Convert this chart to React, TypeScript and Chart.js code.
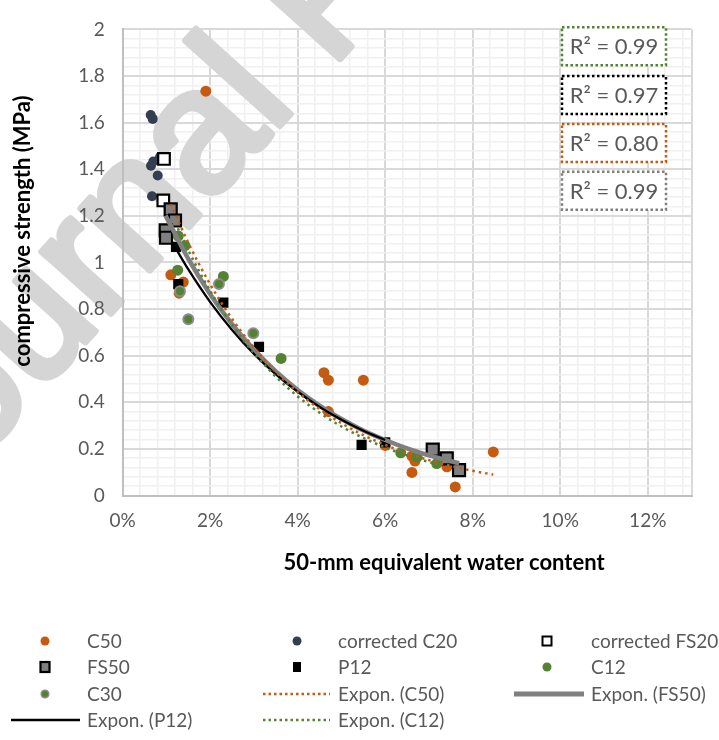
import React, { useEffect, useRef } from 'react';
import { Chart, registerables } from 'chart.js';

Chart.register(...registerables);

// ---- data (water content in %, strength in MPa) ----
const c50X = [1.90, 1.10, 1.385, 1.29, 4.60, 4.70, 5.50, 4.70, 6.00, 6.61, 6.68, 6.61, 7.41, 7.60, 8.47];
const c50Y = [1.735, 0.947, 0.916, 0.868, 0.527, 0.495, 0.495, 0.36, 0.215, 0.169, 0.148, 0.099, 0.123, 0.037, 0.187];

const c20X = [0.64, 0.686, 0.853, 0.70, 0.647, 0.80, 0.67];
const c20Y = [1.633, 1.616, 1.452, 1.433, 1.415, 1.373, 1.284];

const fs20X = [0.944, 0.928];
const fs20Y = [1.444, 1.266];

const fs50X = [1.097, 1.195, 0.983, 0.99, 7.086, 7.406, 7.687];
const fs50Y = [1.228, 1.18, 1.138, 1.106, 0.197, 0.159, 0.109];

const p12X = [1.218, 1.27, 2.30, 3.115, 5.46, 6.0];
const p12Y = [1.067, 0.907, 0.828, 0.638, 0.217, 0.228];

const c12X = [1.27, 1.424, 1.257, 2.30, 3.62, 6.354, 6.73, 7.177];
const c12Y = [1.113, 1.072, 0.967, 0.940, 0.588, 0.183, 0.165, 0.137];

const c30X = [1.31, 2.20, 1.50, 2.985];
const c30Y = [0.876, 0.907, 0.756, 0.696];

// trend lines
const trendC50X = [1.10, 1.5, 2, 2.5, 3, 3.5, 4, 4.5, 5, 5.5, 6, 6.5, 7, 7.5, 8, 8.47];
const trendC50Y = [1.250, 1.084, 0.906, 0.758, 0.634, 0.530, 0.443, 0.371, 0.310, 0.259, 0.217, 0.181, 0.152, 0.127, 0.106, 0.0896];

const trendFS50X = [0.98, 1.5, 2, 2.5, 3, 3.5, 4, 4.5, 5, 5.5, 6, 6.5, 7, 7.69];
const trendFS50Y = [1.201, 1.015, 0.864, 0.735, 0.626, 0.532, 0.453, 0.386, 0.328, 0.279, 0.238, 0.202, 0.172, 0.138];

const trendP12X = [1.22, 1.5, 2, 2.5, 3, 3.5, 4, 4.5, 5, 5.5, 6.0];
const trendP12Y = [1.058, 0.970, 0.830, 0.710, 0.607, 0.520, 0.445, 0.380, 0.325, 0.278, 0.238];

const trendC12X = [1.26, 1.5, 2, 2.5, 3, 3.5, 4, 4.5, 5, 5.5, 6, 6.5, 7.18];
const trendC12Y = [1.147, 1.052, 0.877, 0.732, 0.611, 0.510, 0.425, 0.355, 0.296, 0.247, 0.206, 0.172, 0.134];

const r2Labels = ['R² = 0.99', 'R² = 0.97', 'R² = 0.80', 'R² = 0.99'];
const r2Colors = ['#548235', '#000000', '#C55A11', '#7F7F7F'];

const xTitle = '50-mm equivalent water content';
const yTitle = 'compressive strength (MPa)';
const watermark = 'Journal Pre-proof';

// ---- styling ----
const FONT = 'Lato, "Open Sans", sans-serif';
const ORANGE = '#C55A11';
const NAVY = '#333F50';
const GREEN = '#548235';
const GRAY = '#808080';
const TXT = '#595959';

const xTicks: number[] = [];
for (let i = 0; i <= 32; i++) xTicks.push(Math.round(i * 4) / 1000);
xTicks.push(0.13);
const yTicks: number[] = [];
for (let i = 0; i <= 50; i++) yTicks.push(Math.round(i * 4) / 100);

const isMajorX = (v: number) => Math.abs(v * 50 - Math.round(v * 50)) < 1e-6 || Math.abs(v - 0.13) < 1e-9;
const isMajorY = (v: number) => Math.abs(v * 5 - Math.round(v * 5)) < 1e-6;

const pts = (xs: number[], ys: number[]) => xs.map((x, i) => ({ x: x / 100, y: ys[i] }));

function drawMarker(ctx: CanvasRenderingContext2D, kind: string, x: number, y: number) {
  ctx.save();
  if (kind === 'C50' || kind === 'C20' || kind === 'C12') {
    ctx.beginPath();
    ctx.arc(x, y, 4.5, 0, Math.PI * 2);
    ctx.fillStyle = kind === 'C50' ? ORANGE : kind === 'C20' ? NAVY : GREEN;
    ctx.fill();
  } else if (kind === 'C30') {
    ctx.beginPath();
    ctx.arc(x, y, 3.8, 0, Math.PI * 2);
    ctx.fillStyle = GREEN;
    ctx.fill();
    ctx.lineWidth = 1.5;
    ctx.strokeStyle = '#8C8C8C';
    ctx.stroke();
  } else if (kind === 'FS20') {
    ctx.fillStyle = '#fff';
    ctx.fillRect(x - 4.5, y - 4.5, 9, 9);
    ctx.lineWidth = 2;
    ctx.strokeStyle = '#000';
    ctx.strokeRect(x - 4.5, y - 4.5, 9, 9);
  } else if (kind === 'FS50') {
    ctx.fillStyle = GRAY;
    ctx.fillRect(x - 4.5, y - 5, 9, 10);
    ctx.lineWidth = 2.2;
    ctx.strokeStyle = '#000';
    ctx.strokeRect(x - 4.5, y - 5, 9, 10);
  } else if (kind === 'P12') {
    ctx.fillStyle = '#000';
    ctx.fillRect(x - 4, y - 5, 8, 10);
  }
  ctx.restore();
}

function drawLineSample(ctx: CanvasRenderingContext2D, kind: string, x1: number, x2: number, y: number) {
  ctx.save();
  ctx.beginPath();
  ctx.moveTo(x1, y);
  ctx.lineTo(x2, y);
  if (kind === 'C50' || kind === 'C12') {
    ctx.strokeStyle = kind === 'C50' ? ORANGE : GREEN;
    ctx.lineWidth = 2.5;
    ctx.setLineDash([2.5, 3]);
  } else if (kind === 'FS50') {
    ctx.strokeStyle = GRAY;
    ctx.lineWidth = 5;
  } else {
    ctx.strokeStyle = '#000';
    ctx.lineWidth = 2.5;
  }
  ctx.stroke();
  ctx.restore();
}

const decor = {
  id: 'decor',
  beforeDatasetsDraw(chart: any) {
    const ctx: CanvasRenderingContext2D = chart.ctx;
    ctx.save();
    ctx.translate(-86, 532);
    ctx.rotate(-48 * Math.PI / 180);
    ctx.font = '175px "Liberation Sans", Arial, sans-serif';
    ctx.fillStyle = '#D5D5D5';
    ctx.strokeStyle = '#D5D5D5';
    ctx.lineWidth = 7;
    ctx.lineJoin = 'round';
    ctx.textBaseline = 'alphabetic';
    ctx.strokeText(watermark, 0, 0);
    ctx.fillText(watermark, 0, 0);
    ctx.restore();
  },
  afterDraw(chart: any) {
    const ctx: CanvasRenderingContext2D = chart.ctx;
    ctx.save();
    // axis titles
    ctx.fillStyle = '#000';
    ctx.font = `bold 22px ${FONT}`;
    ctx.textAlign = 'center';
    ctx.textBaseline = 'middle';
    ctx.fillText(xTitle, 444, 563);
    ctx.save();
    ctx.translate(23, 231);
    ctx.rotate(-Math.PI / 2);
    ctx.fillText(yTitle, 0, 0);
    ctx.restore();

    // R² boxes
    const boxTops = [27.3, 76, 124, 171.7];
    for (let i = 0; i < 4; i++) {
      const bx = 562, by = boxTops[i], bw = 104, bh = 38;
      ctx.fillStyle = '#fff';
      ctx.fillRect(bx, by, bw, bh);
      ctx.save();
      ctx.strokeStyle = r2Colors[i];
      ctx.lineWidth = 2.5;
      ctx.setLineDash([2.5, 2.5]);
      ctx.strokeRect(bx, by, bw, bh);
      ctx.restore();
      ctx.fillStyle = TXT;
      ctx.font = `22px ${FONT}`;
      ctx.textAlign = 'center';
      ctx.textBaseline = 'middle';
      ctx.fillText(r2Labels[i], bx + bw / 2, by + bh / 2 + 1);
    }

    // legend
    const rows = [641, 667, 694, 720];
    const markX = [45, 297, 547];
    const textX = [87, 338, 591];
    const lineX = [[11, 80], [263, 330], [514, 584]];
    const items = [
      { label: 'C50', kind: 'C50', line: false },
      { label: 'corrected C20', kind: 'C20', line: false },
      { label: 'corrected FS20', kind: 'FS20', line: false },
      { label: 'FS50', kind: 'FS50', line: false },
      { label: 'P12', kind: 'P12', line: false },
      { label: 'C12', kind: 'C12', line: false },
      { label: 'C30', kind: 'C30', line: false },
      { label: 'Expon. (C50)', kind: 'C50', line: true },
      { label: 'Expon. (FS50)', kind: 'FS50', line: true },
      { label: 'Expon. (P12)', kind: 'P12', line: true },
      { label: 'Expon. (C12)', kind: 'C12', line: true },
    ];
    ctx.font = `19px ${FONT}`;
    ctx.textAlign = 'left';
    ctx.textBaseline = 'middle';
    items.forEach((it, i) => {
      const col = i % 3;
      const row = Math.floor(i / 3);
      const y = rows[row];
      if (it.line) drawLineSample(ctx, it.kind, lineX[col][0], lineX[col][1], y);
      else drawMarker(ctx, it.kind, markX[col], y);
      ctx.fillStyle = TXT;
      ctx.fillText(it.label, textX[col], y + 1);
    });
    ctx.restore();
  },
};

export default function App() {
  const ref = useRef<HTMLCanvasElement>(null);
  useEffect(() => {
    const canvas = ref.current!;
    const lineDs = (xs: number[], ys: number[], color: string, width: number, dash: number[], order: number) => ({
      type: 'scatter' as const,
      data: pts(xs, ys),
      showLine: true,
      pointRadius: 0,
      borderColor: color,
      backgroundColor: color,
      borderWidth: width,
      borderDash: dash,
      borderCapStyle: 'butt' as const,
      cubicInterpolationMode: 'monotone' as const,
      fill: false,
      order,
    });
    const chart = new Chart(canvas, {
      type: 'scatter',
      data: {
        datasets: [
          lineDs(trendC50X, trendC50Y, ORANGE, 2.5, [2.5, 4], 0),
          lineDs(trendC12X, trendC12Y, GREEN, 2.5, [2.5, 4], 1),
          lineDs(trendP12X, trendP12Y, '#000', 2.3, [], 2),
          lineDs(trendFS50X, trendFS50Y, GRAY, 4.5, [], 3),
          { data: pts(c30X, c30Y), pointStyle: 'circle', pointRadius: 5, pointBackgroundColor: GREEN, pointBorderColor: '#8C8C8C', pointBorderWidth: 2, order: 10 },
          { data: pts(c12X, c12Y), pointStyle: 'circle', pointRadius: 5.5, pointBackgroundColor: GREEN, pointBorderColor: GREEN, pointBorderWidth: 0, order: 11 },
          { data: pts(p12X, p12Y), pointStyle: 'rect', pointRadius: 7.2, pointBackgroundColor: '#000', pointBorderColor: '#000', pointBorderWidth: 0, order: 12 },
          { data: pts(fs50X, fs50Y), pointStyle: 'rect', pointRadius: 8.5, pointBackgroundColor: GRAY, pointBorderColor: '#000', pointBorderWidth: 2.2, order: 13 },
          { data: pts(fs20X, fs20Y), pointStyle: 'rect', pointRadius: 8.2, pointBackgroundColor: '#fff', pointBorderColor: '#000', pointBorderWidth: 2.2, order: 14 },
          { data: pts(c20X, c20Y), pointStyle: 'circle', pointRadius: 5, pointBackgroundColor: NAVY, pointBorderColor: NAVY, pointBorderWidth: 0, order: 15 },
          { data: pts(c50X, c50Y), pointStyle: 'circle', pointRadius: 5.5, pointBackgroundColor: ORANGE, pointBorderColor: ORANGE, pointBorderWidth: 0, order: 16 },
        ] as any,
      },
      options: {
        responsive: false,
        devicePixelRatio: 1,
        animation: false,
        events: [],
        layout: { padding: { left: 0, top: 15.5, right: 27.5, bottom: 0 } },
        plugins: { legend: { display: false }, tooltip: { enabled: false }, title: { display: false } },
        scales: {
          x: {
            type: 'linear',
            min: 0,
            max: 0.13,
            afterBuildTicks: (s: any) => { s.ticks = xTicks.map((v) => ({ value: v })); },
            afterFit: (s: any) => { s.height = 244.5; },
            grid: {
              drawTicks: false,
              color: (c: any) => (isMajorX(c.tick.value) ? '#D9D9D9' : '#F0F0F0'),
              lineWidth: (c: any) => (isMajorX(c.tick.value) ? 2 : 1.5),
            },
            border: { display: true, color: '#BFBFBF', width: 2, z: 1 },
            ticks: {
              z: 1,
              autoSkip: false,
              maxRotation: 0,
              minRotation: 0,
              padding: 14,
              color: TXT,
              font: { family: FONT, size: 19 },
              callback: (v: any) => (isMajorX(v) && v < 0.129 ? `${Math.round(v * 100)}%` : ''),
            },
          },
          y: {
            type: 'linear',
            min: 0,
            max: 2,
            afterBuildTicks: (s: any) => { s.ticks = yTicks.map((v) => ({ value: v })); },
            afterFit: (s: any) => { s.width = 122.7; },
            grid: {
              drawTicks: false,
              color: (c: any) => (isMajorY(c.tick.value) ? '#D9D9D9' : '#F0F0F0'),
              lineWidth: (c: any) => (isMajorY(c.tick.value) ? 2 : 1.5),
            },
            border: { display: true, color: '#BFBFBF', width: 2, z: 1 },
            ticks: {
              z: 1,
              autoSkip: false,
              padding: 18,
              color: TXT,
              font: { family: FONT, size: 19 },
              callback: (v: any) => (isMajorY(v) ? String(parseFloat(Number(v).toFixed(1))) : ''),
            },
          },
        },
      } as any,
      plugins: [decor],
    });
    return () => chart.destroy();
  }, []);
  return (
    <div style={{ position: 'absolute', left: 0, top: 0, width: 719, height: 740, background: '#fff' }}>
      <canvas ref={ref} width={719} height={740} style={{ display: 'block', width: 719, height: 740 }} />
    </div>
  );
}
